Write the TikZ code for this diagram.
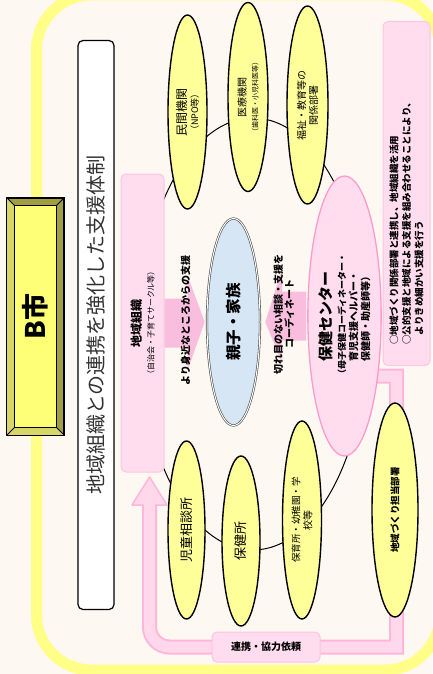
\documentclass[tikz,border=0pt]{standalone}
\usepackage{fontspec}
\setmainfont{Noto Sans CJK JP}
\usepackage{tikz}
\usetikzlibrary{positioning}
\usetikzlibrary{shapes.geometric}
\definecolor{paper}{HTML}{FDF8F1}
\definecolor{frameyellow}{HTML}{FFFF88}
\definecolor{ovalyellow}{HTML}{FFFF99}
\definecolor{cityyellow}{HTML}{FFFF77}
\definecolor{bevellight}{HTML}{D8D668}
\definecolor{beveldark}{HTML}{A29E42}
\definecolor{boxpink}{HTML}{FFDDEE}
\definecolor{edgepink}{HTML}{FFC4E1}
\definecolor{hokenpink}{HTML}{FF9ACB}
\definecolor{arrowpink}{HTML}{F9BEDD}
\definecolor{pipeedge}{HTML}{FFB6D9}
\definecolor{pipefill}{HTML}{FFD8EB}
\definecolor{skyblue}{HTML}{D6E6F5}
\definecolor{textgray}{HTML}{333333}
\newcommand{\textsz}[2]{\fontsize{#1}{#2}\selectfont}
\tikzset{%
  every oval/.style={
    ellipse,
    draw,
    line width=1.4pt,
    fill=ovalyellow,
    rotate=90,
    inner sep=0pt,
    align=center
  },
  pink box/.style={
    rounded corners=5pt,
    draw=edgepink,
    line width=1pt,
    fill=boxpink,
    rotate=90,
    inner sep=0pt,
    align=center
  },
  turned/.style={
    rotate=90,
    align=center,
    inner sep=0pt
  },
}

\begin{document}
\begin{tikzpicture}[x=1pt,y=-1pt]
      \tikzstyle{pipe} = [line width=15pt, draw=pipeedge]

      % Paper and city frame
      \useasboundingbox[fill=paper] (0,0) rectangle (432,674);
      \draw[frameyellow, line width=11pt, rounded corners=55pt] (36.5,-5) rectangle (440,670);

      % City plate
      \def\city{City}
      \node[draw, line width=1.2pt, fill=beveldark, minimum width=57pt, minimum height=237pt, inner sep=0pt] (\city) at (35.5,316.5) {};
      \node[minimum width=42pt, minimum height=222pt, inner sep=0pt] (Plate) at (\city) {};
      \fill[bevellight] (\city.north west) -- (Plate.north west) -- (Plate.south west) -- (\city.south west) -- cycle;
      \fill[bevellight] (\city.south west) -- (Plate.south west) -- (Plate.south east) -- (\city.south east) -- cycle;
      \draw[fill=cityyellow, line width=1pt] (Plate.north west) rectangle (Plate.south east);
      \foreach \corner in {north west, north east, south west, south east}
        \draw[line width=1pt] (\city.\corner) -- (Plate.\corner);
      \draw[line width=1.2pt] (\city.north west) rectangle (\city.south east);
      \node[turned, font=\textsz{27}{27}\bfseries] at (\city) {B市};

      % Title
      \node[draw, line width=1.2pt, fill=white, rounded corners=5pt, rotate=90, minimum width=569pt, minimum height=36pt, inner sep=0pt, text=textgray, font=\textsz{20}{20}] (Title) at (96,325) {地域組織との連携を強化した支援体制};

      % Pipe from the health center back to the community
      \def\hoken{HealthCenter}
      \def\chiiki{Community}
      \coordinate (PipeStart) at (365,376);
      \coordinate (PipeEnd) at (149.5,506);
      \draw[pipe] (PipeStart) -- (396.5,376) -- (396.5,647) [rounded corners=20pt] -- (149.5,647) -- (PipeEnd);
      \filldraw[fill=pipefill, draw=pipeedge, line width=1.5pt, line join=round] (132,505) -- (149.5,477) -- (167,505) -- cycle;
      \draw[pipe, line width=11pt, draw=pipefill] (PipeStart) -- (396.5,376) -- (396.5,647) [rounded corners=20pt] -- (149.5,647) -- (149.5,504);

      % Ring of partners
      \node[ellipse, draw, line width=1pt, minimum width=228pt, minimum height=432pt] (Ring) at (253,334) {};

      % Community groups
      \node[pink box, minimum width=298pt, minimum height=43pt] (\chiiki) at (142.5,323) {\textsz{12}{13}\bfseries 地域組織\\[1pt]\textsz{8}{10}\mdseries （自治会・子育てサークル等）};

      % Family
      \def\family{Family}
      \node[ellipse, draw=gray!60!black, double=white, double distance=1pt, line width=0.6pt, fill=skyblue, rotate=90, minimum width=207pt, minimum height=53pt, inner sep=0pt, font=\textsz{15.5}{17}\bfseries] (\family) at (233.5,322) {親子・家族};

      % Health center
      \node[ellipse, draw=hokenpink, line width=1.3pt, fill=boxpink, rotate=90, minimum width=280pt, minimum height=65pt, inner sep=0pt, align=center] (\hoken) at (344.5,316) {\textsz{15}{17}\bfseries 保健センター\\[2pt]\textsz{9}{11}\bfseries （母子保健コーディネーター・\\\bfseries 育児支援ヘルパー・\\\bfseries 保健師・助産師等）};

      % Support arrows
      \fill[arrowpink] ([yshift=24.5pt]\chiiki.south) -- ([xshift=23pt,yshift=24.5pt]\chiiki.south) -- ([xshift=23pt,yshift=47.5pt]\chiiki.south)
        -- ([xshift=-2pt]\family.north) -- ([xshift=23pt,yshift=-47.5pt]\chiiki.south) -- ([xshift=23pt,yshift=-24.5pt]\chiiki.south) -- ([yshift=-24.5pt]\chiiki.south) -- cycle;
      \fill[arrowpink] ([xshift=-1pt,yshift=24.5pt]\hoken.north) -- ([xshift=-25pt,yshift=24.5pt]\hoken.north) -- ([xshift=-25pt,yshift=47.5pt]\hoken.north)
        -- ([xshift=5pt]\family.south) -- ([xshift=-25pt,yshift=-47.5pt]\hoken.north) -- ([xshift=-25pt,yshift=-24.5pt]\hoken.north) -- ([xshift=-1pt,yshift=-24.5pt]\hoken.north) -- cycle;
      \path (\chiiki.south) -- node[turned, font=\textsz{10}{12}\bfseries, xshift=2pt] {より身近なところからの支援} (\family.north);
      \path (\hoken.north) -- node[turned, font=\textsz{10}{11}\bfseries, xshift=5pt] {切れ目のない相談・支援を\\コーディネート} (\family.south);

      % Partners
      \node[every oval, minimum width=194pt, minimum height=39pt] (NPO) at (187.5,112) {\textsz{12}{14}民間機関\\\textsz{9}{11}（NPO等）};
      \node[every oval, minimum width=189pt, minimum height=40pt] (Medical) at (248,97) {\textsz{10}{12}医療機関\\\textsz{7}{9}（歯科医・小児科医等）};
      \node[every oval, minimum width=198pt, minimum height=41pt] (Welfare) at (307.5,105) {\textsz{10}{13}福祉・教育等の\\関係部署};
      \node[every oval, minimum width=178pt, minimum height=37pt] (Guidance) at (186.5,530) {\textsz{13}{15}児童相談所};
      \node[every oval, minimum width=170pt, minimum height=38pt] (Office) at (241,541) {\textsz{13}{15}保健所};
      \node[every oval, minimum width=198pt, minimum height=39pt] (School) at (302,520) {\textsz{9.5}{12}保育所・幼稚園・学\\校等};
      \node[every oval, minimum width=214pt, minimum height=46pt] (Planning) at (395,510) {\textsz{9.5}{12}\bfseries 地域づくり担当部署};

      % Note
      \node[pink box, minimum width=344pt, minimum height=47pt, text width=302pt, align=left, font=\textsz{9.5}{12.5}\bfseries] (Note) at (406.5,193.5) {○地域づくり関係部署と連携し、地域組織を活用\\○公的支援と地域による支援を組み合わせることにより、\\\hspace*{1em}よりきめ細かい支援を行う};

      % Request label on the pipe
      \node[pink box, rotate=-90, minimum width=108pt, minimum height=30pt, font=\textsz{10}{12}\bfseries] (Request) at (266,647) {連携・協力依頼};
    \end{tikzpicture}
\end{document}
